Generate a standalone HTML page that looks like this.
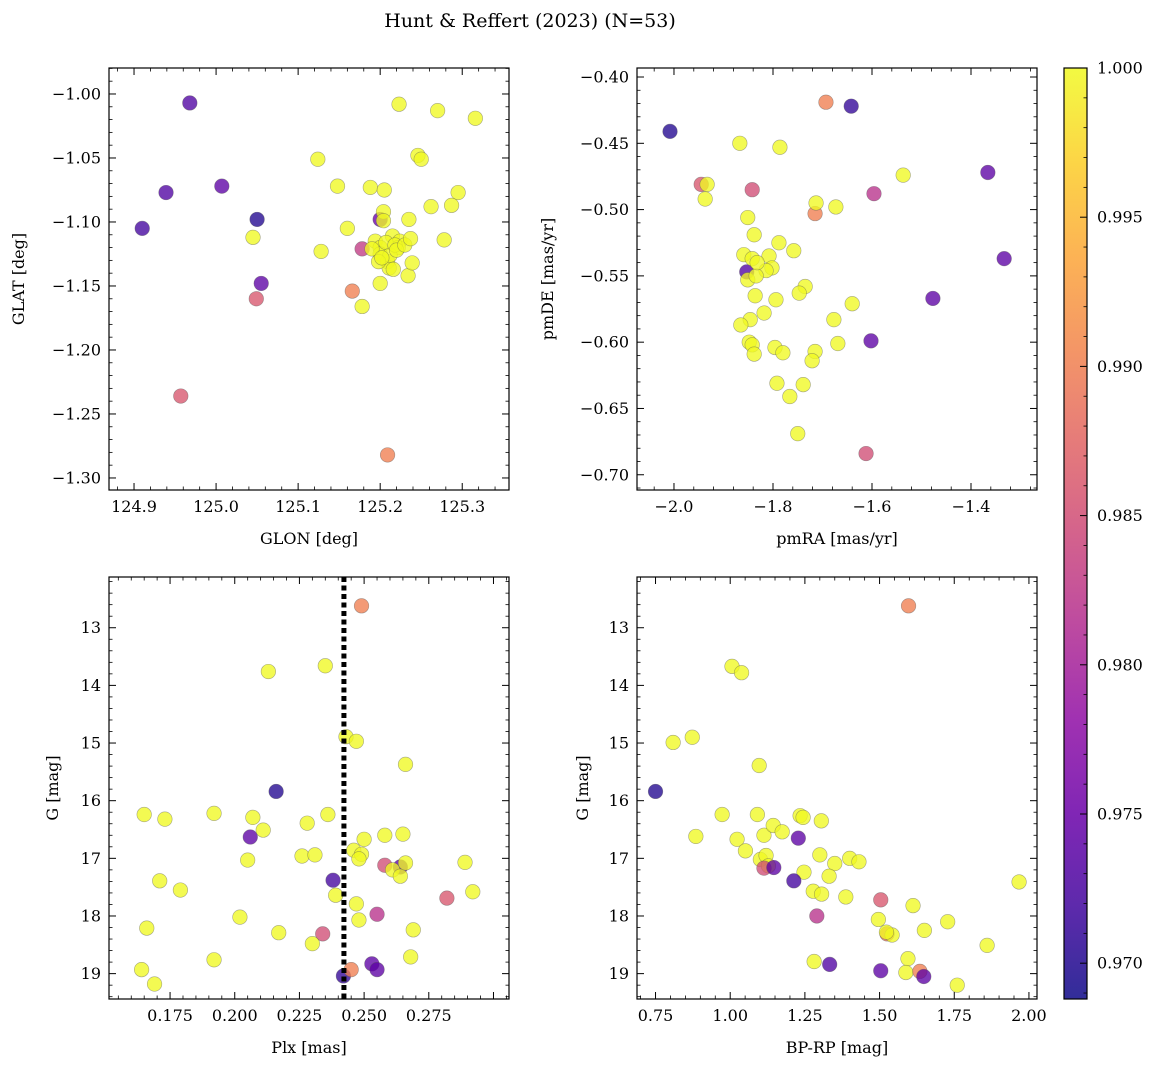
<!DOCTYPE html>
<html><head><meta charset="utf-8">
<style>
body{margin:0;background:#fff;}
svg{display:block;}
text{font-family:"DejaVu Serif","Liberation Serif",serif;fill:#000;}
</style></head>
<body>
<svg id="fig" width="1161" height="1067" viewBox="0 0 1161 1067" xmlns="http://www.w3.org/2000/svg">
<text x="530" y="27" font-size="19" text-anchor="middle">Hunt &amp; Reffert (2023) (N=53)</text>
</svg>
<script>
// Panel 1: GLON / GLAT
const glon = [124.968,124.939,125.007,124.910,125.050,125.055,125.049,124.957,125.166,125.178,125.200,125.209,
125.223,125.270,125.316,125.246,125.250,125.124,125.148,125.295,125.287,125.262,125.128,125.160,125.045,125.188,125.205,125.204,125.204,125.235,125.194,125.200,125.215,125.224,125.200,125.209,125.211,125.222,125.207,125.234,125.239,125.278,125.200,125.178,125.212,125.218,125.190,125.198,125.220,125.202,125.216,125.230,125.237];
const glat = [-1.007,-1.077,-1.072,-1.105,-1.098,-1.148,-1.160,-1.236,-1.154,-1.121,-1.098,-1.282,
-1.008,-1.013,-1.019,-1.048,-1.051,-1.051,-1.072,-1.077,-1.087,-1.088,-1.123,-1.105,-1.112,-1.073,-1.075,-1.092,-1.099,-1.098,-1.115,-1.120,-1.111,-1.115,-1.125,-1.131,-1.136,-1.120,-1.116,-1.142,-1.132,-1.114,-1.148,-1.166,-1.126,-1.118,-1.121,-1.131,-1.122,-1.128,-1.137,-1.118,-1.113];
const prob1 = [0.973,0.973,0.974,0.972,0.970,0.974,0.986,0.986,0.990,0.983,0.975,0.990,
1,1,1,1,1,1,1,1,1,1,1,1,1,1,1,1,1,1,1,1,1,1,1,1,1,1,1,1,1,1,1,1,1,1,1,1,1,1,1,1,1];
// Panel 2: pmRA / pmDE
const pmra = [-2.008,-1.642,-1.693,-1.945,-1.842,-1.715,-1.596,-1.366,-1.333,-1.477,-1.602,-1.612,-1.853,
-1.867,-1.786,-1.937,-1.933,-1.713,-1.673,-1.537,-1.851,-1.838,-1.859,-1.842,-1.808,-1.788,-1.758,-1.802,-1.814,-1.851,-1.834,-1.836,-1.794,-1.818,-1.846,-1.865,-1.735,-1.747,-1.677,-1.640,-1.848,-1.842,-1.838,-1.796,-1.780,-1.715,-1.721,-1.669,-1.792,-1.739,-1.766,-1.750,-1.832];
const pmde = [-0.441,-0.422,-0.419,-0.481,-0.485,-0.503,-0.488,-0.472,-0.537,-0.567,-0.599,-0.684,-0.547,
-0.450,-0.453,-0.492,-0.481,-0.495,-0.498,-0.474,-0.506,-0.519,-0.534,-0.537,-0.535,-0.525,-0.531,-0.544,-0.546,-0.553,-0.550,-0.565,-0.568,-0.578,-0.583,-0.587,-0.558,-0.563,-0.583,-0.571,-0.600,-0.602,-0.609,-0.604,-0.608,-0.607,-0.614,-0.601,-0.631,-0.632,-0.641,-0.669,-0.540];
const prob2 = [0.970,0.971,0.990,0.986,0.985,0.990,0.982,0.974,0.974,0.974,0.974,0.985,0.973,
1,1,1,1,1,1,1,1,1,1,1,1,1,1,1,1,1,1,1,1,1,1,1,1,1,1,1,1,1,1,1,1,1,1,1,1,1,1,1,1,1];
// Panel 3: Plx / G
const plx = [0.249,0.216,0.206,0.238,0.282,0.255,0.234,0.253,0.255,0.242,0.245,0.258,0.264,
0.213,0.235,0.243,0.247,0.266,0.165,0.173,0.192,0.207,0.211,0.228,0.236,0.258,0.265,0.250,0.246,0.249,0.248,0.226,0.231,0.205,0.261,0.264,0.266,0.289,0.171,0.179,0.239,0.247,0.292,0.248,0.202,0.217,0.230,0.166,0.269,0.192,0.268,0.164,0.169];
const gmag3 = [12.62,15.84,16.63,17.38,17.69,17.97,18.31,18.83,18.93,19.04,18.93,17.12,17.15,
13.76,13.66,14.89,14.97,15.37,16.24,16.32,16.22,16.29,16.51,16.39,16.24,16.60,16.58,16.67,16.86,16.93,17.01,16.96,16.94,17.03,17.20,17.31,17.08,17.07,17.39,17.55,17.64,17.79,17.58,18.07,18.02,18.29,18.48,18.21,18.24,18.76,18.71,18.93,19.18];
const prob3 = [0.990,0.970,0.974,0.972,0.986,0.982,0.985,0.974,0.974,0.971,0.990,0.985,0.974,
1,1,1,1,1,1,1,1,1,1,1,1,1,1,1,1,1,1,1,1,1,1,1,1,1,1,1,1,1,1,1,1,1,1,1,1,1,1,1];
const plxLine = [0.2422];
// Panel 4: BP-RP / G
const bprp = [1.597,1.006,1.038,0.809,0.873,1.097,0.750,0.973,1.091,1.234,1.244,1.305,0.885,1.023,1.113,1.144,1.174,1.228,1.051,1.101,1.120,1.128,1.113,1.146,1.300,1.350,1.400,1.431,1.247,1.331,1.213,1.278,1.306,1.387,1.504,1.612,1.967,1.290,1.496,1.728,1.650,1.525,1.542,1.523,1.860,1.281,1.333,1.504,1.595,1.588,1.635,1.648,1.760];
const gmag4 = [12.62,13.67,13.78,14.99,14.90,15.39,15.84,16.24,16.24,16.26,16.29,16.35,16.62,16.67,16.60,16.43,16.54,16.65,16.87,17.02,16.95,17.13,17.17,17.16,16.94,17.09,17.00,17.06,17.24,17.31,17.39,17.57,17.62,17.67,17.72,17.82,17.41,18.00,18.06,18.10,18.25,18.31,18.33,18.28,18.51,18.79,18.84,18.95,18.74,18.98,18.96,19.05,19.20];
const prob4 = [0.990,1,1,1,1,1,0.970,1,1,1,1,1,1,1,1,1,1,0.974,1,1,1,1,0.985,0.974,1,1,1,1,1,1,0.972,1,1,1,0.986,1,1,0.982,1,1,1,0.989,1,1,1,1,0.973,0.974,1,1,0.990,0.974,1];
const cbTicks = [0.970,0.975,0.980,0.985,0.990,0.995,1.000];

const NS="http://www.w3.org/2000/svg";
const svg=document.getElementById('fig');
function mk(tag,attrs,parent){const e=document.createElementNS(NS,tag);for(const k in attrs)e.setAttribute(k,attrs[k]);(parent||svg).appendChild(e);return e;}
const VMIN=0.9688,VMAX=1.0;
const stops=["#0d0887","#41049d","#6a00a8","#8f0da4","#b12a90","#cc4778","#e16462","#f2844b","#fca636","#fcce25","#f0f921"];
function hex(h){return [1,3,5].map(i=>parseInt(h.substr(i,2),16));}
function cmap(t){if(!isFinite(t))t=1;t=Math.max(0,Math.min(1,t))*10;const i=Math.min(9,Math.floor(t));const f=t-i;const a=hex(stops[i]),b=hex(stops[i+1]);return 'rgb('+a.map((v,j)=>Math.round(v+(b[j]-v)*f)).join(',')+')';}
function fmt(v,d){return (v<-1e-9?'\u2212':'')+Math.abs(v).toFixed(d);}

function panel(cfg){
  const {L,T,W,H,xmin,xmax,ymin,ymax,name}=cfg;
  const g=mk('g',{});
  
  
  const sx=v=>L+(v-xmin)/(xmax-xmin)*W;
  const sy=v=>cfg.invert? T+(v-ymin)/(ymax-ymin)*H : T+H-(v-ymin)/(ymax-ymin)*H;
  const clip=mk('clipPath',{id:'c'+name},g);mk('rect',{x:L,y:T,width:W,height:H},clip);
  const pg=mk('g',{'clip-path':'url(#c'+name+')'},g);
  cfg.xs.forEach((xv,i)=>{
    const p=(cfg.ps[i]===undefined)?1:cfg.ps[i];
    const c=mk('circle',{cx:sx(xv),cy:sy(cfg.ys[i]),r:7.3,fill:cmap((p-VMIN)/(VMAX-VMIN)),'fill-opacity':0.78,stroke:'#555','stroke-opacity':0.5,'stroke-width':0.6},pg);
    
    
  });
  if(cfg.vline){cfg.vline.forEach(v=>{
    const l=mk('line',{x1:sx(v),x2:sx(v),y1:T,y2:T+H,stroke:'#000','stroke-width':5,'stroke-dasharray':'5,3.5'},pg);
    
    
  });}
  const fr=mk('rect',{x:L,y:T,width:W,height:H,fill:'none',stroke:'#000','stroke-width':1.2},g);
  
  
  const xt=cfg.xt, nx=Math.round((xt[1]-xt[0])/xt[2]);
  for(let k=-20;k<=nx+20;k++){const v=xt[0]+k*xt[2];const x=sx(v);
    for(let m=1;m<5;m++){const xm=sx(v+m*xt[2]/5);if(xm<L||xm>L+W)continue;
      mk('line',{x1:xm,x2:xm,y1:T+H,y2:T+H-3.5,stroke:'#000','stroke-width':0.8},g);
      mk('line',{x1:xm,x2:xm,y1:T,y2:T+3.5,stroke:'#000','stroke-width':0.8},g);}
    if(x<L-0.5||x>L+W+0.5)continue;
    mk('line',{x1:x,x2:x,y1:T+H,y2:T+H-7,stroke:'#000','stroke-width':1},g);
    mk('line',{x1:x,x2:x,y1:T,y2:T+7,stroke:'#000','stroke-width':1},g);
    if(k>=0&&k<=nx){const t=mk('text',{x:x,y:T+H+22,'font-size':16,'text-anchor':'middle'},g);t.textContent=fmt(v,cfg.xd);
      }
  }
  const yt=cfg.yt, ny=Math.round((yt[1]-yt[0])/yt[2]);
  for(let k=-20;k<=ny+20;k++){const v=yt[0]+k*yt[2];const y=sy(v);
    for(let m=1;m<5;m++){const ym=sy(v+m*yt[2]/5);if(ym<T||ym>T+H)continue;
      mk('line',{x1:L,x2:L+3.5,y1:ym,y2:ym,stroke:'#000','stroke-width':0.8},g);
      mk('line',{x1:L+W,x2:L+W-3.5,y1:ym,y2:ym,stroke:'#000','stroke-width':0.8},g);}
    if(y<T-0.5||y>T+H+0.5)continue;
    mk('line',{x1:L,x2:L+7,y1:y,y2:y,stroke:'#000','stroke-width':1},g);
    mk('line',{x1:L+W,x2:L+W-7,y1:y,y2:y,stroke:'#000','stroke-width':1},g);
    if(k>=0&&k<=ny){const t=mk('text',{x:L-8,y:y+5.5,'font-size':16,'text-anchor':'end'},g);t.textContent=fmt(v,cfg.yd);
      }
  }
  const xl=mk('text',{x:L+W/2,y:T+H+54,'font-size':16,'text-anchor':'middle'},g);xl.textContent=cfg.xlabel;
  
  const yl=mk('text',{x:0,y:0,'font-size':16,'text-anchor':'middle',transform:'translate('+cfg.ylx+','+(T+H/2)+') rotate(-90)'},g);yl.textContent=cfg.ylabel;
  
}
panel({name:'glon-glat',L:109,T:68,W:400,H:422,xmin:124.8695,xmax:125.357,ymin:-1.3094,ymax:-0.9797,xs:glon,ys:glat,ps:prob1,xt:[124.9,125.3,0.1],xd:1,yt:[-1.30,-1.00,0.05],yd:2,xlabel:'GLON [deg]',ylabel:'GLAT [deg]',ylx:24});
panel({name:'pmra-pmde',L:637,T:68,W:400,H:422,xmin:-2.0747,xmax:-1.2667,ymin:-0.7115,ymax:-0.3932,xs:pmra,ys:pmde,ps:prob2,xt:[-2.0,-1.4,0.2],xd:1,yt:[-0.70,-0.40,0.05],yd:2,xlabel:'pmRA [mas/yr]',ylabel:'pmDE [mas/yr]',ylx:553});
panel({name:'plx-g',L:109,T:577,W:400,H:422,xmin:0.1514,xmax:0.3060,ymin:12.12,ymax:19.44,invert:true,xs:plx,ys:gmag3,ps:prob3,vline:plxLine,xt:[0.175,0.275,0.025],xd:3,yt:[13,19,1],yd:0,xlabel:'Plx [mas]',ylabel:'G [mag]',ylx:58});
panel({name:'bprp-g',L:637,T:577,W:400,H:422,xmin:0.688,xmax:2.027,ymin:12.12,ymax:19.44,invert:true,xs:bprp,ys:gmag4,ps:prob4,xt:[0.75,2.00,0.25],xd:2,yt:[13,19,1],yd:0,xlabel:'BP-RP [mag]',ylabel:'G [mag]',ylx:588});

// colorbar
const cb=mk('g',{});


const CL=1064,CT=68,CW=23,CH=931;
const defs=mk('defs',{},cb);const lg=mk('linearGradient',{id:'cbg',x1:0,y1:1,x2:0,y2:0},defs);
for(let i=0;i<=20;i++){mk('stop',{offset:i/20,'stop-color':cmap(i/20),'stop-opacity':0.85},lg);}
mk('rect',{x:CL,y:CT,width:CW,height:CH,fill:'url(#cbg)',stroke:'#000','stroke-width':1.2},cb);
const cy=v=>CT+CH-(v-VMIN)/(VMAX-VMIN)*CH;
cbTicks.forEach(v=>{const y=cy(v);mk('line',{x1:CL+CW,x2:CL+CW-7,y1:y,y2:y,stroke:'#000'},cb);
  const t=mk('text',{x:CL+CW+10,y:y+5.5,'font-size':16},cb);t.textContent=v.toFixed(3);
  
  for(let m=1;m<5;m++){const ym=cy(v-m*0.001);if(ym>CT+CH)continue;mk('line',{x1:CL+CW,x2:CL+CW-3.5,y1:ym,y2:ym,stroke:'#000','stroke-width':0.8},cb);}
});
</script>
</body></html>
